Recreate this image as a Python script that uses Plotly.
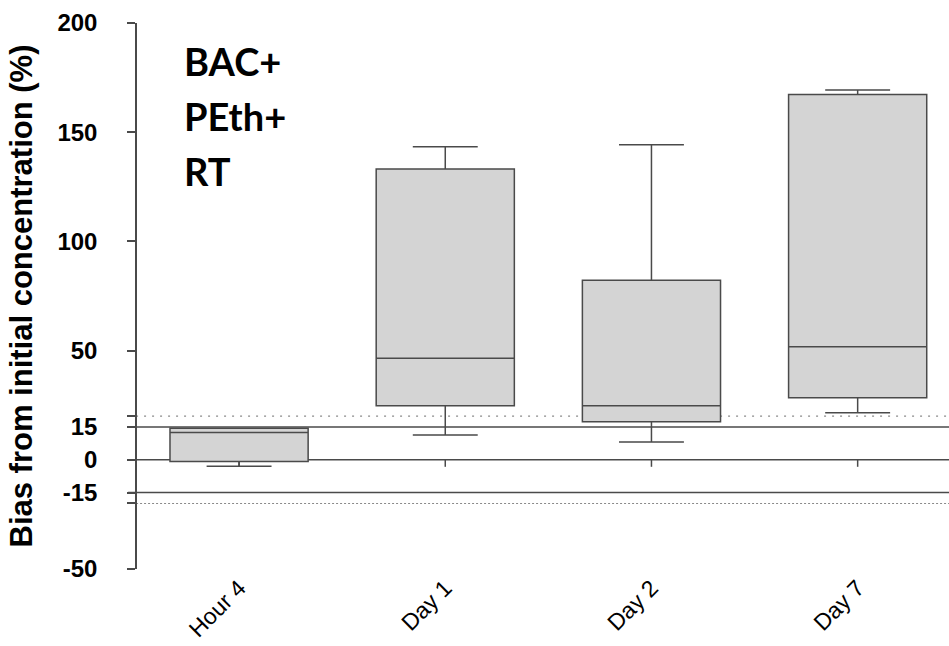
import plotly.graph_objects as go

categories = ["Hour 4", "Day 1", "Day 2", "Day 7"]
lower_whisker = [-2.9, 11.3, 8.2, 21.5]
q1_values = [-0.8, 24.7, 17.4, 28.4]
median_values = [12.5, 46.5, 24.7, 51.8]
q3_values = [14.5, 133.1, 82.2, 167.3]
upper_whisker = [14.5, 143.3, 144.2, 169.3]

solid_limits = [-15, 0, 15]
dotted_limits = [-20, 20]
tick_values = [-50, -20, -15, 0, 15, 20, 50, 100, 150, 200]
tick_text = ["-50", "", "-15", "0", "15", "", "50", "100", "150", "200"]
label_lines = ["BAC+", "PEth+", "RT"]

fig = go.Figure()
fig.add_trace(go.Box(
    x=categories,
    q1=q1_values, median=median_values, q3=q3_values,
    lowerfence=lower_whisker, upperfence=upper_whisker,
    fillcolor="#d4d4d4",
    line=dict(color="#4a4a4a", width=1.5),
    width=0.67,
    whiskerwidth=0.47,
    boxpoints=False,
    hoverinfo="skip",
    showlegend=False,
))

shapes = []
for v in solid_limits:
    shapes.append(dict(type="line", xref="paper", yref="y", x0=-0.011, x1=1, y0=v, y1=v,
                       line=dict(color="#4a4a4a", width=1.5), layer="below"))
for v, dash in zip(dotted_limits, ["2px,2px", "2px,6px"]):
    shapes.append(dict(type="line", xref="paper", yref="y", x0=-0.011, x1=1, y0=v, y1=v,
                       line=dict(color="#8a8a8a", width=1.2, dash=dash), layer="below"))
for c in categories:
    shapes.append(dict(type="line", xref="x", yref="y", x0=c, x1=c,
                       ysizemode="pixel", yanchor=0, y0=0, y1=-7,
                       line=dict(color="#4a4a4a", width=1.5), layer="below"))

annotations = []
for i, t in enumerate(label_lines):
    annotations.append(dict(text=t, xref="paper", yref="paper",
                            x=0.056, y=(569 - 61 - 55 * i) / 546,
                            xanchor="left", yanchor="middle", showarrow=False,
                            font=dict(family="Lato", size=38, color="black", weight="bold")))

fig.update_layout(
    width=949, height=646,
    margin=dict(l=137, r=0, t=23, b=77),
    paper_bgcolor="white", plot_bgcolor="white",
    shapes=shapes, annotations=annotations,
    xaxis=dict(range=[-0.495, 3.443], showline=False, showgrid=False, zeroline=False,
               ticks="", tickangle=-45,
               tickfont=dict(family="Liberation Sans", size=23, color="black")),
    yaxis=dict(range=[-50, 200], showgrid=False, zeroline=False,
               showline=True, linecolor="#4a4a4a", linewidth=1.5,
               ticks="outside", ticklen=8, tickwidth=1.5, tickcolor="#4a4a4a",
               tickvals=tick_values, ticktext=tick_text, ticklabelstandoff=25,
               tickfont=dict(family="Liberation Sans", size=24, color="black", weight="bold"),
               title=dict(text="Bias from initial concentration (%)", standoff=16,
                          font=dict(family="Liberation Sans", size=31, color="black", weight="bold"))),
)

fig.write_html("out.html", config={"displayModeBar": False},
               post_script="document.body.style.margin='0px';")
